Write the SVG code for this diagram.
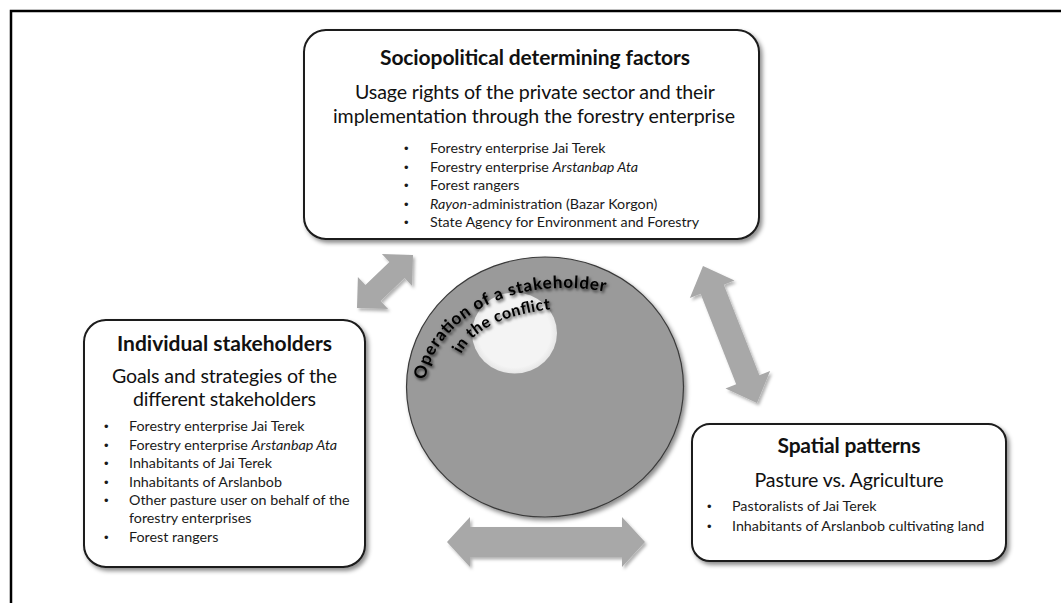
<svg xmlns="http://www.w3.org/2000/svg" width="1061" height="603" viewBox="0 0 1061 603">
<style>
  .box { fill: #ffffff; stroke: #1a1a1a; stroke-width: 2; filter: url(#shadow); }
  .title { font-family: Lato, "Liberation Sans", sans-serif; font-weight: 700; fill: #111; text-anchor: middle; }
  .sub { font-family: Lato, "Liberation Sans", sans-serif; fill: #111; text-anchor: middle; }
  .item { font-family: Lato, "Liberation Sans", sans-serif; font-size: 14.3px; fill: #1a1a1a; }
  .dot { font-family: "Liberation Sans", sans-serif; font-size: 13px; fill: #1a1a1a; }
  .arrow { fill: #a8a8a8; filter: url(#ashadow); }
  .curve { font-family: Lato, "Liberation Sans", sans-serif; font-weight: 700; fill: #000; filter: url(#tshadow); }
</style>
<defs>
  <filter id="shadow" x="-10%" y="-10%" width="125%" height="130%">
    <feDropShadow dx="2.5" dy="3" stdDeviation="2" flood-color="#000" flood-opacity="0.45"/>
  </filter>
  <filter id="ashadow" x="-20%" y="-20%" width="150%" height="150%">
    <feDropShadow dx="2" dy="2.5" stdDeviation="1.8" flood-color="#000" flood-opacity="0.3"/>
  </filter>
  <filter id="tshadow" x="-20%" y="-20%" width="140%" height="140%">
    <feDropShadow dx="1.5" dy="2" stdDeviation="1.5" flood-color="#000" flood-opacity="0.75"/>
  </filter>
  <radialGradient id="hole" cx="0.5" cy="0.5" r="0.5">
    <stop offset="0.85" stop-color="#f4f4f4"/>
    <stop offset="1" stop-color="#e6e6e6"/>
  </radialGradient>
  <path id="arc1" d="M 425,380 C 437,318 512,274 608,292"/>
  <path id="arc2" d="M 461,354 C 474,329 505,312 566,308"/>
</defs>

<rect width="1061" height="603" fill="#ffffff"/>
<g id="frame">
  <rect x="11" y="11" width="1100" height="700" fill="none" stroke="#000" stroke-width="2.5"/>
</g>

<g id="connectors">
  <polygon class="arrow" points="413,255 412.1,286.1 404.6,278.1 380.6,300.9 388.1,308.9 357,308 357.9,276.9 365.4,284.9 389.4,262.1 381.9,254.1"/>
  <polygon class="arrow" points="703,266 734.5,280.4 723.8,284.7 759.4,375.2 770.1,370.9 757,403 725.5,388.6 736.2,384.3 700.6,293.8 689.9,298.1"/>
  <polygon class="arrow" points="447,542 470,517 470,527 622,527 622,517 645,542 622,567 622,557 470,557 470,567"/>
</g>

<g id="center">
  <ellipse cx="545" cy="387" rx="138.5" ry="130" fill="#9a9a9a" stroke="#3a3a3a" stroke-width="1.2" filter="url(#shadow)"/>
  <ellipse cx="514.5" cy="333" rx="42.5" ry="40.5" fill="url(#hole)"/>
  <text class="curve" font-size="17px"><textPath href="#arc1" textLength="222" lengthAdjust="spacing">Operation of a stakeholder</textPath></text>
  <text class="curve" font-size="16px"><textPath href="#arc2" textLength="104" lengthAdjust="spacing">in the conflict</textPath></text>
</g>

<g id="box-top">
  <rect class="box" x="304" y="30" width="455" height="209" rx="22" ry="22"/>
  <text class="title" x="535" y="65" font-size="21px" textLength="310">Sociopolitical determining factors</text>
  <text class="sub" x="535" y="99" font-size="19.6px" textLength="360">Usage rights of the private sector and their</text>
  <text class="sub" x="534" y="123" font-size="19.6px" textLength="402">implementation through the forestry enterprise</text>
  <text class="dot" x="404" y="153">•</text>
  <text class="item" x="430" y="153">Forestry enterprise Jai Terek</text>
  <text class="dot" x="404" y="172">•</text>
  <text class="item" x="430" y="172">Forestry enterprise <tspan font-style="italic">Arstanbap Ata</tspan></text>
  <text class="dot" x="404" y="190">•</text>
  <text class="item" x="430" y="190">Forest rangers</text>
  <text class="dot" x="404" y="209">•</text>
  <text class="item" x="430" y="209"><tspan font-style="italic">Rayon</tspan>-administration (Bazar Korgon)</text>
  <text class="dot" x="404" y="227">•</text>
  <text class="item" x="430" y="227">State Agency for Environment and Forestry</text>
</g>

<g id="box-left">
  <rect class="box" x="84" y="320" width="281" height="247" rx="22" ry="22"/>
  <text class="title" x="224.5" y="351" font-size="21px" textLength="215">Individual stakeholders</text>
  <text class="sub" x="224.5" y="383" font-size="19.6px" textLength="225">Goals and strategies of the</text>
  <text class="sub" x="224.5" y="406" font-size="19.6px" textLength="183">different stakeholders</text>
  <text class="dot" x="104" y="431">•</text>
  <text class="item" x="129" y="431">Forestry enterprise Jai Terek</text>
  <text class="dot" x="104" y="450">•</text>
  <text class="item" x="129" y="450">Forestry enterprise <tspan font-style="italic">Arstanbap Ata</tspan></text>
  <text class="dot" x="104" y="468">•</text>
  <text class="item" x="129" y="468">Inhabitants of Jai Terek</text>
  <text class="dot" x="104" y="487">•</text>
  <text class="item" x="129" y="487">Inhabitants of Arslanbob</text>
  <text class="dot" x="104" y="505">•</text>
  <text class="item" x="129" y="505">Other pasture user on behalf of the</text>
  <text class="item" x="129" y="523">forestry enterprises</text>
  <text class="dot" x="104" y="542">•</text>
  <text class="item" x="129" y="542">Forest rangers</text>
</g>

<g id="box-right">
  <rect class="box" x="692" y="424" width="314" height="137" rx="18" ry="18"/>
  <text class="title" x="849" y="453" font-size="21px" textLength="143">Spatial patterns</text>
  <text class="sub" x="849" y="487" font-size="19.6px" textLength="189">Pasture vs. Agriculture</text>
  <text class="dot" x="707" y="511">•</text>
  <text class="item" x="732" y="511">Pastoralists of Jai Terek</text>
  <text class="dot" x="707" y="531">•</text>
  <text class="item" x="732" y="531">Inhabitants of Arslanbob cultivating land</text>
</g>
</svg>
